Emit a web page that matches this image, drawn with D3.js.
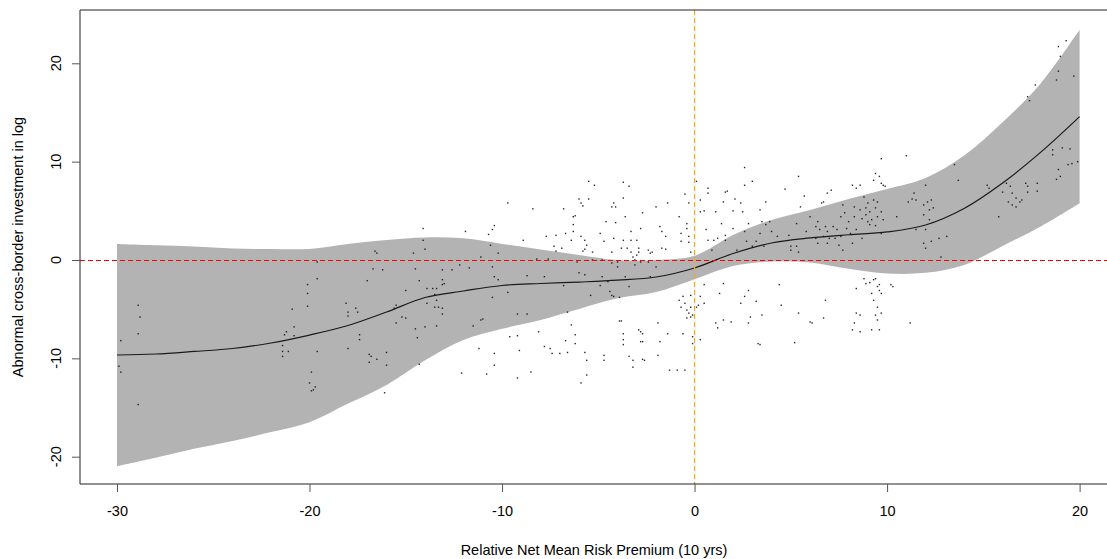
<!DOCTYPE html>
<html><head><meta charset="utf-8">
<script src="https://cdn.jsdelivr.net/npm/d3@7"></script>
<style>
body{margin:0;background:#fff;}
svg{display:block;}
text{font-family:"Liberation Sans", Arial, sans-serif;fill:#000;}
</style>
</head><body>
<svg id="chart" width="1107" height="559"></svg>
<script>
// ---- data ----
const gridX  = [-30,-28,-26,-24,-22,-20,-18,-16,-14,-12,-10,-8,-6,-4,-2,0,2,4,6,8,10,12,14,16,18,20];
const fitY   = [-9.66,-9.56,-9.3,-9.0,-8.44,-7.63,-6.66,-5.29,-3.81,-3.15,-2.59,-2.39,-2.24,-2.05,-1.73,-0.81,0.66,1.73,2.24,2.57,2.85,3.56,5.24,7.83,10.99,14.58];
const lowerY = [-20.96,-20.1,-19.2,-18.4,-17.5,-16.5,-14.6,-12.7,-10.2,-8.14,-7.0,-6.1,-4.98,-3.9,-3.26,-1.95,-0.61,-0.15,-0.25,-0.9,-1.37,-1.3,-0.5,1.42,3.43,5.77];
const upperY = [1.63,1.5,1.37,1.17,1.12,1.12,1.63,2.03,2.29,2.2,1.63,1.07,0.51,0.0,0.0,0.43,2.54,4.07,5.09,6.2,7.22,8.34,10.63,14.0,18.0,23.4];
const xTicks = [-30,-20,-10,0,10,20];
const yTicks = [-20,-10,0,10,20];
const xLabel = "Relative Net Mean Risk Premium (10 yrs)";
const yLabel = "Abnormal cross-border investment in log";
const points = [
[-29.8,-8.2],[-29.9,-10.8],[-29.8,-11.4],[-28.9,-4.6],[-28.8,-5.8],[-28.9,-7.5],[-28.9,-14.7],
[-20.9,-5.0],[-20.8,-6.8],[-21.2,-7.3],[-21.3,-7.6],[-20.8,-7.7],[-21.4,-8.7],[-21.4,-9.3],[-21.1,-9.3],[-21.4,-9.8],
[-20.1,-2.5],[-20.1,-3.4],[-19.6,-0.2],[-19.6,-1.9],[-20.1,-4.7],[-19.6,-9.3],[-19.9,-11.4],[-20.0,-12.5],[-19.7,-12.9],[-19.9,-13.3],[-19.8,-13.2],
[-18.1,-4.4],[-18.0,-5.3],[-18.0,-5.7],[-17.6,-4.9],[-17.5,-5.3],[-18.0,-9.0],[-17.4,-7.6],[-17.4,-8.1],[-17.0,-2.1],[-16.7,-0.9],[-16.6,0.9],[-16.5,0.7],[-16.2,-1.0],
[-16.9,-9.6],[-16.8,-9.8],[-16.9,-10.4],[-16.5,-10.1],[-16.0,-9.4],[-16.0,-10.7],[-16.1,-13.5],
[-15.6,-4.9],[-15.5,-4.6],[-15.5,-6.4],[-15.2,-5.8],[-15.0,-5.9],[-15.0,-3.1],[-14.6,0.7],[-14.5,-0.9],[-14.3,-2.1],[-14.1,3.2],[-14.1,2.0],[-14.0,1.1],
[-13.9,-2.9],[-13.6,-2.9],[-13.9,-4.4],[-13.4,-4.1],[-13.3,-4.8],[-14.5,-7.0],[-14.4,-7.9],[-14.0,-6.8],[-13.4,-6.7],[-14.3,-10.6],[-13.5,-3.5],
[-13.1,-1.0],[-13.1,-2.0],[-13.1,-2.5],[-13.0,-2.4],[-13.4,-2.9],[-13.5,-4.8],[-13.1,-4.9],[-13.1,-5.5],
[-12.6,-1.0],[-12.2,-0.5],[-11.9,2.9],[-11.7,-0.8],[-11.5,-6.7],[-12.1,-11.5],[-11.2,-9.0],[-11.1,-6.1],[-11.0,-6.0],
[-10.7,2.6],[-10.5,3.1],[-10.4,3.5],[-10.6,1.5],[-10.5,-0.7],[-11.1,0.3],[-10.2,0.7],[-10.4,-1.7],[-10.2,-2.0],[-10.5,-3.8],[-10.8,-11.6],[-10.4,-9.5],[-10.4,-10.7],
[-9.7,5.8],[-9.7,-3.3],[-9.6,-7.8],[-9.2,-7.7],[-9.1,-9.2],[-9.2,-12.0],[-9.2,-5.5],[-8.7,-5.5],[-8.9,2.0],[-8.7,-1.6],[-8.2,0.1],[-8.1,-7.3],[-8.5,-11.4],
[-7.8,-1.7],[-7.8,-8.8],[-7.7,2.4],[-7.6,0.1],[-7.5,-9.0],[-7.4,-9.5],[-7.2,2.5],[-7.3,1.4],[-7.2,0.9],[-7.0,-9.5],
[-6.8,5.2],[-6.9,1.2],[-6.7,2.7],[-6.8,-2.6],[-6.7,-8.2],[-6.6,-9.4],[-6.6,-5.3],[-6.4,-6.6],[-6.3,4.4],[-6.3,3.6],[-6.3,2.9],[-6.4,2.0],[-6.2,4.5],[-6.2,-7.6],[-6.2,-8.5],
[-6.1,-0.2],[-6.0,-1.3],[-5.9,2.4],[-5.8,0.9],[-5.7,2.0],[-5.7,1.1],[-5.6,1.5],[-5.7,-1.5],[-5.7,-9.4],[-5.6,-10.2],[-5.6,-11.7],[-5.9,-12.5],
[-5.4,-3.6],[-5.3,0.0],[-5.3,0.8],[-4.9,2.7],[-4.8,-1.7],[-4.9,-2.6],[-4.8,0.0],[-4.7,-9.7],[-4.7,-10.2],[-4.6,3.9],[-4.7,1.9],[-4.5,-2.2],[-4.4,-3.2],[-4.3,-3.6],
[-4.3,0.8],[-4.2,-3.7],[-4.1,3.8],[-4.2,5.8],[-4.1,5.4],[-4.2,2.2],[-4.0,-0.2],[-4.0,-0.7],[-4.3,-0.3],[-3.9,-3.8],[-3.9,-6.2],[-3.8,-6.2],[-3.7,-7.5],[-3.7,-8.1],[-3.7,-8.6],
[-3.7,7.9],[-3.4,7.5],[-3.7,6.3],[-3.6,4.4],[-3.7,2.0],[-3.8,1.2],[-3.5,1.2],[-3.6,-1.7],[-3.4,-2.7],[-3.4,-9.8],[-3.3,2.0],[-3.3,2.9],[-3.3,0.8],[-3.2,0.3],
[-3.1,-0.5],[-3.1,0.0],[-3.0,0.5],[-3.0,2.0],[-2.9,1.2],[-2.9,0.8],[-2.8,-0.2],[-2.8,3.2],[-2.7,4.8],[-2.9,-7.1],[-2.8,-7.3],[-2.7,-7.5],[-2.8,-8.3],[-2.7,-8.3],
[-3.2,-10.9],[-3.2,-10.2],[-2.7,-10.1],[-2.6,-10.2],[-2.4,1.0],[-2.3,0.7],[-2.2,0.8],[-2.4,-0.2],[-2.3,-1.7],[-2.0,-0.7],[-2.0,5.4],[-1.8,3.4],[-1.7,2.9],[-1.5,2.4],
[-1.7,1.2],[-1.5,1.1],[-1.9,-6.4],[-1.8,-8.3],[-1.9,-9.7],[-1.4,-7.5],[-1.4,5.8],[-1.3,-11.2],[-0.9,-11.2],[-0.5,-11.2],[-0.8,4.4],[-0.7,2.7],[-0.7,1.9],[-0.5,6.7],
[-0.4,3.2],[-0.4,3.7],[-0.3,5.8],[-0.3,2.4],[-0.3,1.8],[-0.2,0.8],[-0.8,-4.1],[-0.7,-4.8],[-0.6,-3.7],[-0.5,-4.4],[-0.4,-5.1],[-0.3,-5.4],[-0.2,-5.8],[-0.4,-5.9],
[-0.2,-4.8],[-0.2,-3.6],[-0.1,-7.8],[-0.1,-8.5],[-0.6,-7.5],
[0.1,8.0],[0.3,6.1],[0.3,4.9],[0.5,5.0],[0.7,7.3],[0.7,6.8],[0.6,3.1],[0.7,2.0],[0.9,1.0],[1.0,2.0],[1.1,4.9],[1.2,2.2],[1.4,3.7],[1.5,5.9],[1.6,6.9],[1.7,7.0],
[1.6,2.5],[1.6,2.0],[2.1,6.2],[2.0,5.0],[2.0,3.2],[2.2,1.0],[2.4,5.8],[2.5,4.9],[2.6,2.9],[2.6,7.6],[2.7,1.9],[2.8,3.7],[3.0,8.0],[3.0,1.4],[3.2,1.9],[3.4,5.1],
[3.4,2.7],[3.5,3.9],[3.6,1.4],[3.7,5.9],[3.7,3.6],[3.9,3.9],[4.0,2.9],[4.3,2.4],[4.7,7.2],[4.9,2.5],[5.0,1.4],[5.0,1.0],[5.3,3.7],[5.4,8.5],[5.5,5.4],[5.3,1.4],
[5.4,0.8],[5.7,6.5],[5.8,2.9],[6.0,4.4],[6.3,3.4],[6.3,2.2],[6.4,1.7],[6.4,3.9],[6.5,3.1],[6.6,5.8],[6.7,5.9],[6.7,2.4],[6.8,3.4],[6.9,2.9],[6.9,6.8],[6.9,1.7],
[7.0,2.2],[7.1,7.1],[7.2,3.4],[7.3,2.2],[7.4,3.1],[7.5,1.5],[7.6,4.4],[7.6,2.4],[7.7,1.0],[7.7,5.6],[7.8,4.8],[7.9,3.2],[8.0,3.9],[8.1,2.7],[8.2,7.6],[8.2,1.7],
[8.3,4.4],[8.3,5.4],[8.4,7.3],[8.4,3.1],[8.6,5.1],[8.6,7.6],[8.7,4.2],[8.7,2.2],[8.8,6.4],[8.9,5.3],[8.9,4.6],[9.0,3.9],[9.0,5.8],[9.1,4.9],[9.2,4.1],[9.3,8.1],
[9.3,6.1],[9.4,8.8],[9.4,5.3],[9.5,4.4],[9.5,5.9],[9.6,8.5],[9.7,7.8],[9.4,3.5],[9.1,3.6],
[8.8,-1.9],[8.9,-2.4],[9.1,-2.3],[9.3,-2.0],[9.5,-2.7],[9.4,-1.9],[9.6,-3.1],[9.7,-3.4],[9.6,-2.5],[10.2,-2.5],[10.3,-2.7],[9.2,-3.4],[9.3,-4.1],[9.5,-4.8],
[9.7,-5.4],[9.4,-5.6],[9.2,-7.1],[8.4,-2.9],[8.4,-5.4],[8.6,-5.6],[8.3,-6.4],[8.2,-7.1],[8.6,-7.3],[9.6,-7.1],[9.5,-6.1],
[0.5,-2.5],[0.3,-3.7],[0.2,-4.6],[0.5,-4.4],[0.1,-4.8],[-0.1,-5.6],[0.3,-8.1],[1.3,-3.4],[1.5,-2.4],[1.1,-6.4],[1.2,-6.9],[1.5,-6.1],[1.9,-6.3],[2.4,-4.4],
[2.6,-3.7],[2.8,-3.1],[2.9,-5.8],[2.8,-6.4],[3.2,-4.2],[3.3,-8.5],[3.5,-5.6],[3.4,-8.6],[4.4,-2.5],[4.5,-4.6],[5.2,-8.4],[5.4,-5.4],[6.0,-6.3],[6.1,-6.4],[6.7,-5.9],[6.8,-4.1],
[11.2,-6.4],[11.0,10.6],[2.6,9.4],[11.3,6.2],[10.5,4.4],[9.7,10.3],[9.8,7.6],[9.9,7.5],[13.5,9.7],[13.7,8.1],[11.4,6.8],[11.5,6.1],[11.1,5.9],[12.0,7.6],[11.9,5.6],
[12.1,5.9],[12.3,6.1],[12.4,5.3],[12.2,5.1],[11.9,4.6],[12.2,4.1],[12.0,3.1],[11.5,3.1],[11.9,1.7],[12.0,1.2],[12.3,1.9],[12.7,2.2],[13.1,2.4],[12.8,0.3],
[9.7,4.9],[9.8,4.1],[9.7,2.7],[15.2,7.6],[15.3,7.3],[15.8,4.4],[16.0,6.9],[16.2,7.8],[16.4,7.5],[16.5,6.8],[16.3,5.9],[16.5,5.6],[16.7,6.3],[16.7,5.4],[16.9,5.9],
[17.0,6.1],[17.2,7.8],[17.3,7.5],[17.3,6.9],[17.3,16.6],[17.4,16.2],[17.7,17.8],[17.8,7.8],[17.8,7.0],[18.6,11.2],[18.6,10.7],[18.9,9.2],[19.0,8.5],[18.8,8.2],
[19.1,11.4],[19.5,11.3],[19.4,9.7],[19.6,9.8],[19.9,10.0],[18.9,19.2],[18.8,18.3],[19.0,20.7],[19.7,18.7],[18.9,21.7],[19.3,22.3],
[-5.5,8.0],[-5.2,7.6],[-6.0,6.2],[-5.5,6.2],[-5.9,5.8],[-5.8,5.5],[-8.4,5.2],[-4.3,5.4]
];

// ---- layout ----
const W = 1107, H = 559;
const frame = {left: 80, top: 10, right: 1107, bottom: 484};
const x = d3.scaleLinear().domain([-30, 20]).range([117, 1079.6]);
const y = d3.scaleLinear().domain([-20, 20]).range([456.7, 63.3]);
const fmt = d => String(d);   // plain hyphen-minus, as in the reference

const svg = d3.select("#chart");
svg.append("rect").attr("width", W).attr("height", H).attr("fill", "#fff");

svg.append("clipPath").attr("id", "clip").append("rect")
  .attr("x", frame.left).attr("y", frame.top)
  .attr("width", frame.right - frame.left).attr("height", frame.bottom - frame.top);

const g = svg.append("g").attr("clip-path", "url(#clip)");

const band = gridX.map((v, i) => ({x: v, lo: lowerY[i], hi: upperY[i], fit: fitY[i]}));

// confidence band
g.append("path").datum(band)
  .attr("fill", "#B3B3B3")
  .attr("d", d3.area().x(d => x(d.x)).y0(d => y(d.lo)).y1(d => y(d.hi)).curve(d3.curveCatmullRom));

// scatter points
g.append("g").selectAll("rect").data(points).join("rect")
  .attr("x", d => x(d[0]) - 0.7).attr("y", d => y(d[1]) - 0.7)
  .attr("width", 1.4).attr("height", 1.4)
  .attr("fill", "#111").attr("fill-opacity", 0.9);

// fitted line
g.append("path").datum(band)
  .attr("fill", "none").attr("stroke", "#1a1a1a").attr("stroke-width", 1.2)
  .attr("d", d3.line().x(d => x(d.x)).y(d => y(d.fit)).curve(d3.curveCatmullRom));

// reference lines
g.append("line")
  .attr("x1", frame.left).attr("x2", frame.right)
  .attr("y1", y(0) + 0.5).attr("y2", y(0) + 0.5)
  .attr("stroke", "#FF0000").attr("stroke-width", 1).attr("stroke-dasharray", "5,3")
  .attr("shape-rendering", "crispEdges");
g.append("line")
  .attr("x1", x(0)).attr("x2", x(0))
  .attr("y1", frame.top).attr("y2", frame.bottom)
  .attr("stroke", "#FFA500").attr("stroke-width", 1.2).attr("stroke-dasharray", "5,3");

// frame (left, top, bottom)
svg.append("path")
  .attr("d", `M${frame.right},${frame.top}H${frame.left}V${frame.bottom}H${frame.right}`)
  .attr("fill", "none").attr("stroke", "#222").attr("stroke-width", 1);

// x axis
const xAxis = svg.append("g").attr("transform", `translate(0,${frame.bottom})`)
  .call(d3.axisBottom(x).tickValues(xTicks).tickSize(8).tickPadding(14).tickFormat(fmt));
xAxis.select(".domain").remove();
xAxis.selectAll("line").attr("stroke", "#555");
xAxis.selectAll("text").attr("font-size", "14.5px").style("font-family", '"Liberation Sans", Arial, sans-serif').attr("fill", "#000");

// y axis ticks
const yAxis = svg.append("g").attr("transform", `translate(${frame.left},0)`)
  .call(d3.axisLeft(y).tickValues(yTicks).tickSize(8).tickFormat(""));
yAxis.select(".domain").remove();
yAxis.selectAll("line").attr("stroke", "#555");
yAxis.selectAll("text").remove();
svg.append("g").selectAll("text").data(yTicks).join("text")
  .attr("transform", d => `translate(60.5,${y(d)}) rotate(-90)`)
  .attr("text-anchor", "middle").attr("font-size", "14.5px")
  .text(fmt);

// axis titles
svg.append("text").attr("x", 594).attr("y", 555)
  .attr("text-anchor", "middle").attr("font-size", "14.5px").text(xLabel);
svg.append("text").attr("transform", `translate(22.5,${(frame.top + frame.bottom) / 2}) rotate(-90)`)
  .attr("text-anchor", "middle").attr("font-size", "14.5px").text(yLabel);
</script>
</body></html>
